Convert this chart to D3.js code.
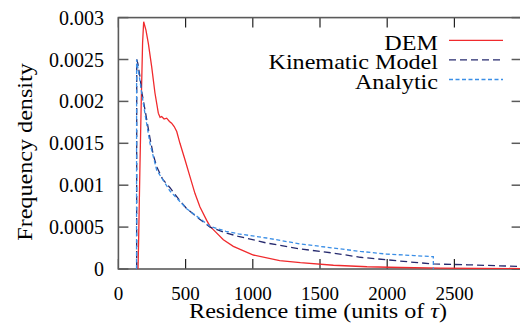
<!DOCTYPE html>
<html>
<head>
<meta charset="utf-8">
<script src="https://cdn.jsdelivr.net/npm/d3@7"></script>
</head>
<body style="margin:0">
<svg id="chart" width="520" height="333"></svg>
<script>

// residence time (units of tau) and frequency density
var demT = [146, 150, 160, 170, 180, 188, 205, 223, 248, 272, 297, 310, 322, 340, 359, 380, 396, 415, 434, 458, 496, 533, 570, 607, 657, 683, 706, 781, 855, 1004, 1200, 1354, 1600, 1850, 2100, 2400, 2700, 3000]
var demV = [0, 0.0003, 0.0012, 0.0020, 0.0027, 0.00295, 0.00285, 0.00269, 0.00241, 0.00210, 0.00186, 0.00181, 0.00182, 0.00179, 0.00180, 0.00176, 0.00174, 0.00170, 0.00164, 0.00150, 0.00130, 0.00110, 0.00090, 0.00074, 0.00058, 0.000505, 0.00047, 0.00035, 0.00027, 0.000167, 0.0001, 0.000075, 0.000045, 0.000027, 0.000018, 0.00001, 0.000007, 0.000005]

var kinT = [136, 136.5, 145, 160, 173, 198, 235, 260, 285, 330, 384, 450, 508, 600, 682, 800, 892, 1103, 1350, 1600, 1800, 1996, 2200, 2343, 2600, 3000]
var kinV = [0, 0.0025, 0.00245, 0.0023, 0.00212, 0.0019, 0.00156, 0.00136, 0.00122, 0.00107, 0.00097, 0.00083, 0.00072, 0.0006, 0.0005, 0.00043, 0.00039, 0.00031, 0.00024, 0.00019, 0.00014, 0.00011, 0.00008, 0.00006, 0.00005, 0.00003]

var anaT = [135, 135.5, 145, 160, 173, 198, 235, 285, 384, 508, 682, 800, 892, 1103, 1350, 1600, 1800, 1996, 2200, 2343, 2343.5]
var anaV = [0, 0.0025, 0.0024, 0.00225, 0.0021, 0.00185, 0.0015, 0.00118, 0.00093, 0.00072, 0.00051, 0.00045, 0.00042, 0.00037, 0.0003, 0.00025, 0.00021, 0.000178, 0.00016, 0.000147, 0]

var xTicks = [0, 500, 1000, 1500, 2000, 2500, 3000]
var xTickLabels = ["0", "500", "1000", "1500", "2000", "2500"]
var yTicks = [0, 0.0005, 0.001, 0.0015, 0.002, 0.0025, 0.003]
var yTickLabels = ["0", "0.0005", "0.001", "0.0015", "0.002", "0.0025", "0.003"]

var seriesNames = ["DEM", "Kinematic Model", "Analytic"]
var seriesColors = ["#f02a2d", "#262a6e", "#3a8ee6"]
var seriesDash = [null, "7,4", "4,2.5"]

var svg = d3.select("#chart"),
    margin = {top: 17.6, left: 118.4, bottom: 64, right: 0},
    width = 521.6 - margin.left,
    height = 269 - margin.top;

var x = d3.scaleLinear().domain([0, 3000]).range([margin.left, margin.left + width])
var y = d3.scaleLinear().domain([0, 0.003]).range([margin.top + height, margin.top])

function serif(sel, size) {
  return sel.attr("font-family", "Times New Roman").attr("font-size", size).attr("fill", "#000")
}

// the TeX font is wider than Times, so words get a horizontal stretch
var stretch = 1.15

svg.append("clipPath").attr("id", "clip")
   .append("rect")
   .attr("x", x(0)).attr("y", y(0.003))
   .attr("width", width).attr("height", height)

var tickLen = 10
var grey = "#5a5a5a"

// inward ticks, bottom and top
var ticks = svg.append("g")
ticks.selectAll(".xb").data(xTicks).enter().append("line")
    .attr("x1", d => x(d)).attr("x2", d => x(d))
    .attr("y1", y(0)).attr("y2", y(0) - tickLen)
    .attr("stroke", "#222").attr("stroke-width", 1.2)
ticks.selectAll(".xt").data(xTicks).enter().append("line")
    .attr("x1", d => x(d)).attr("x2", d => x(d))
    .attr("y1", y(0.003)).attr("y2", y(0.003) + tickLen)
    .attr("stroke", "#222").attr("stroke-width", 1.2)

// inward ticks, left and right
ticks.selectAll(".yl").data(yTicks).enter().append("line")
    .attr("x1", x(0)).attr("x2", x(0) + tickLen)
    .attr("y1", d => y(d)).attr("y2", d => y(d))
    .attr("stroke", grey).attr("stroke-width", 1.5)
ticks.selectAll(".yr").data(yTicks).enter().append("line")
    .attr("x1", x(3000)).attr("x2", x(3000) - tickLen)
    .attr("y1", d => y(d)).attr("y2", d => y(d))
    .attr("stroke", grey).attr("stroke-width", 1.5)

// tick labels
serif(svg.append("g").selectAll("text")
    .data(xTickLabels)
    .enter().append("text")
    .attr("x", (d, i) => x(xTicks[i]))
    .attr("y", 300)
    .attr("text-anchor", "middle")
    .text(d => d), 19)

serif(svg.append("g").selectAll("text")
    .data(yTickLabels)
    .enter().append("text")
    .attr("x", 104)
    .attr("y", (d, i) => y(yTicks[i]) + 7)
    .attr("text-anchor", "end")
    .text(d => d), 20)

// frame
svg.append("rect")
   .attr("x", x(0)).attr("y", y(0.003))
   .attr("width", width).attr("height", height)
   .attr("fill", "none").attr("stroke", grey).attr("stroke-width", 1.6)

var line = d3.line().x(d => x(d[0])).y(d => y(d[1]))

var series = [
  d3.zip(demT, demV),
  d3.zip(kinT, kinV),
  d3.zip(anaT, anaV)
]

svg.append("g").attr("clip-path", "url(#clip)")
   .selectAll("path")
   .data(series)
   .enter().append("path")
   .attr("d", line)
   .attr("fill", "none")
   .attr("stroke", (d, i) => seriesColors[i])
   .attr("stroke-width", 1.3)
   .attr("stroke-dasharray", (d, i) => seriesDash[i])

// legend
var legend = svg.append("g").selectAll("g")
    .data(seriesNames)
    .enter().append("g")
    .attr("transform", (d, i) => `translate(0, ${40.3 + i * 19.6})`)

serif(legend.append("text")
    .attr("transform", `translate(438, 9.5) scale(${stretch}, 1)`)
    .attr("text-anchor", "end")
    .text(d => d), 21)

legend.append("line")
    .attr("x1", 449).attr("x2", 503)
    .attr("stroke", (d, i) => seriesColors[i])
    .attr("stroke-width", 1.3)
    .attr("stroke-dasharray", (d, i) => seriesDash[i])

// axis titles
var xTitle = serif(svg.append("text")
   .attr("transform", `translate(318, 318) scale(${stretch}, 1)`)
   .attr("text-anchor", "middle"), 21)
xTitle.append("tspan").text("Residence time (units of ")
xTitle.append("tspan").attr("font-style", "italic").text("τ")
xTitle.append("tspan").text(")")

serif(svg.append("text")
   .attr("transform", `translate(32, 152) rotate(-90) scale(${stretch}, 1)`)
   .attr("text-anchor", "middle")
   .text("Frequency density"), 21)

</script>
</body>
</html>
